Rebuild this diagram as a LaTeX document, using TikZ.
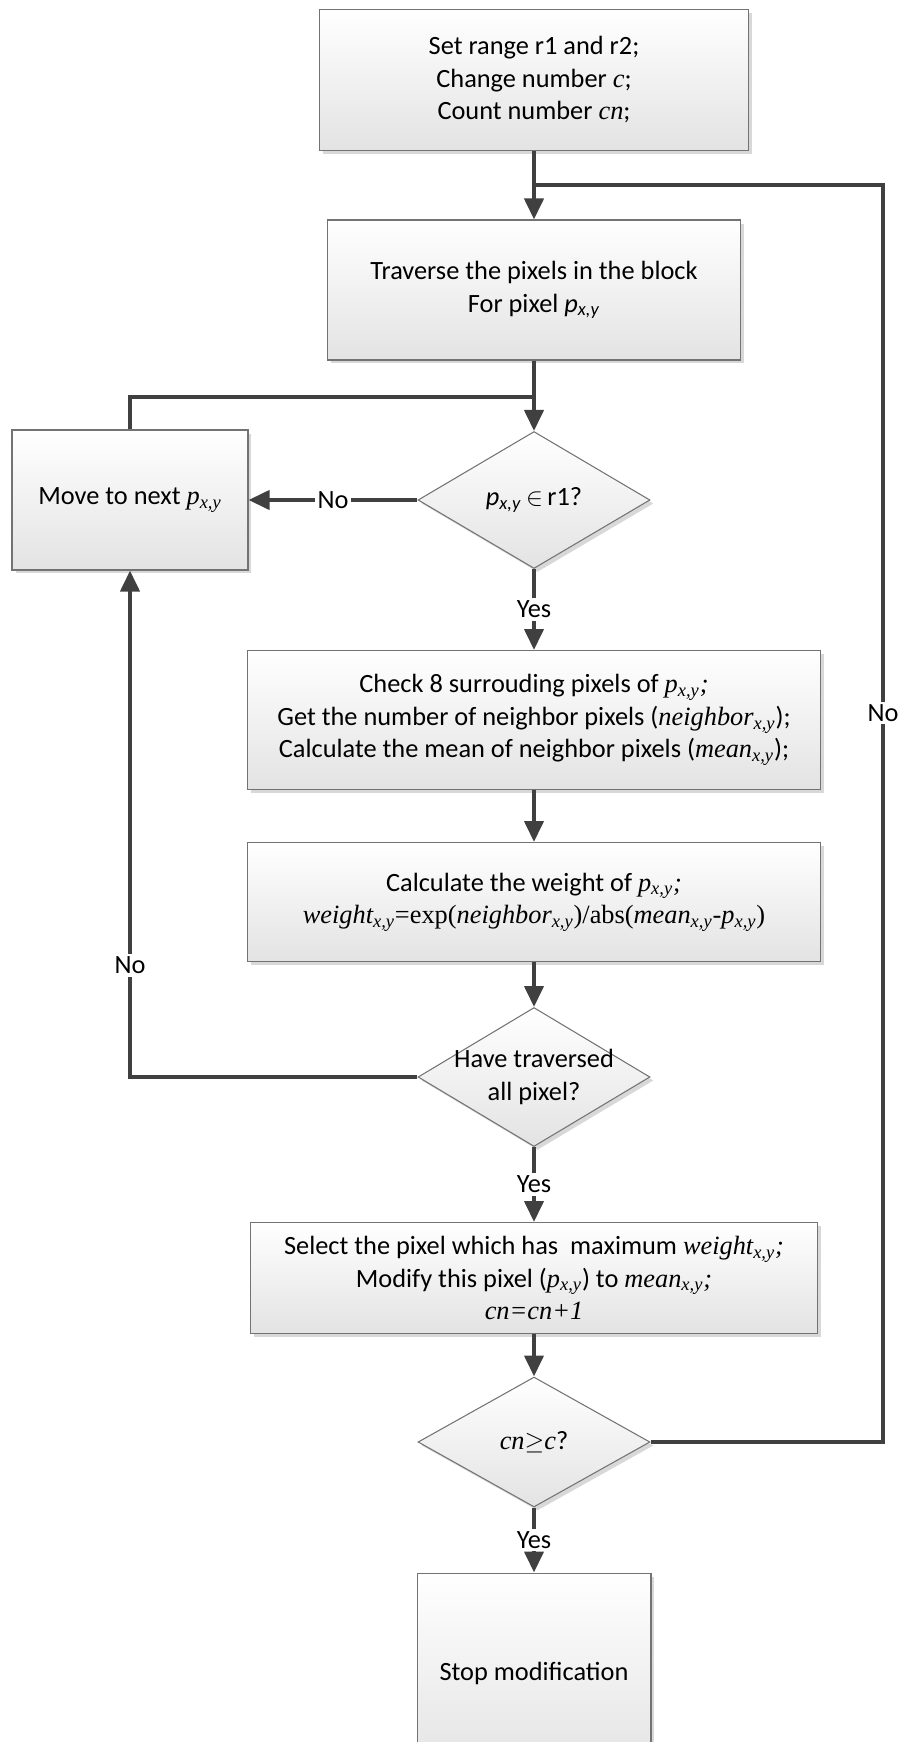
\documentclass[tikz,border=0pt]{standalone}
\usepackage{fontspec}
\setmainfont{Carlito}
\newfontfamily\tnr{Liberation Serif}
\usetikzlibrary{arrows.meta,shapes.geometric,shadows}

\newcommand{\tvar}[1]{{\tnr\itshape #1}}
\newcommand{\tsub}[1]{\textsubscript{\tnr\itshape #1}}

\begin{document}
\begin{tikzpicture}[x=0.02cm, y=-0.02cm,
        font=\fontsize{15}{18.5}\selectfont,
        box/.style={rectangle, draw=black!55, line width=0.6pt, top color=white, bottom color=black!11, drop shadow={shadow xshift=0.07cm, shadow yshift=-0.07cm, fill=black!30, opacity=0.5}, align=center, inner sep=2pt},
        decision/.style={diamond, draw=black!55, line width=0.6pt, top color=white, bottom color=black!11, drop shadow={shadow xshift=0.07cm, shadow yshift=-0.07cm, fill=black!30, opacity=0.5}, align=center, inner sep=0pt, minimum width=4.64cm, minimum height=2.74cm},
        link/.style={draw=black!75, line width=2.3pt},
        flow/.style={link, -{Triangle[width=0.38cm,length=0.42cm]}},
        lbl/.style={fill=white, inner sep=1.5pt}
    ]
    \useasboundingbox (0,0) rectangle (898,1742);

    % Start and loop head
    \node[box, minimum width=8.6cm, minimum height=2.82cm] (init) at (534,80) {Set range r1 and r2;\\Change number \tvar{c};\\Count number \tvar{cn};};
    \node[box, minimum width=8.28cm, minimum height=2.8cm] (trav) at (534,290) {Traverse the pixels in the block\\For pixel \textit{p}\textsubscript{\textit{x,y}}};

    % Pixel test
    \node[decision] (inr1) at (534,500) {\textit{p}\textsubscript{\textit{x,y}}\,$\in$\,r1?};
    \node[box, minimum width=4.72cm, minimum height=2.8cm] (move) at (130,500) {Move to next \tvar{p}\tsub{x,y}};

    % Weight computation
    \node[box, minimum width=11.48cm, minimum height=2.78cm] (check) at (534,720) {Check 8 surrouding pixels of \tvar{p}\tsub{x,y}\tvar{;}\\Get the number of neighbor pixels (\tvar{neighbor}\tsub{x,y});\\Calculate the mean of neighbor pixels (\tvar{mean}\tsub{x,y});};
    \node[box, minimum width=11.48cm, minimum height=2.38cm] (weight) at (534,902) {Calculate the weight of \tvar{p}\tsub{x,y}\tvar{;}\\{\tnr\tvar{weight}\tsub{x,y}=exp(\tvar{neighbor}\tsub{x,y})/abs(\tvar{mean}\tsub{x,y}-\tvar{p}\tsub{x,y})}};
    \node[decision, minimum height=2.78cm] (alldone) at (534,1077) {\makebox[0pt]{Have traversed}\\\makebox[0pt]{all pixel?}};

    % Modification and count test
    \node[box, minimum width=11.34cm, minimum height=2.22cm] (modify) at (534,1278) {Select the pixel which has\ \ maximum \tvar{weight}\tsub{x,y}\tvar{;}\\Modify this pixel (\tvar{p}\tsub{x,y}) to \tvar{mean}\tsub{x,y}\tvar{;}\\\tvar{cn=cn+1}};
    \node[decision, minimum height=2.6cm] (enough) at (534,1442) {\tvar{cn}$\geq$\tvar{c}?};
    \node[box, minimum width=4.68cm, minimum height=4cm] (stop) at (534,1673) {Stop modification};

    \coordinate (j1) at (534,185);
    \coordinate (j2) at (534,397);
    \coordinate (cornerR) at (883,185);

    % Connections
    \draw[flow] (init) -- (trav);
    \draw[flow] (trav) -- (inr1);
    \draw[link] (move.north) |- (j2);
    \draw[flow] (inr1.west) -- node[lbl] {No} (move.east);
    \draw[flow] (inr1) -- node[lbl] {Yes} (check);
    \draw[flow] (check) -- (weight);
    \draw[flow] (weight) -- (alldone);
    \draw[flow] (alldone.west) -| node[lbl, pos=0.61] {No} (move.south);
    \draw[flow] (alldone) -- node[lbl] {Yes} (modify);
    \draw[flow] (modify) -- (enough);
    \draw[link] (enough.east) -| node[lbl, pos=0.79] {No} (cornerR) -- (j1);
    \draw[flow] (enough) -- node[lbl] {Yes} (stop);

\end{tikzpicture}
\end{document}
